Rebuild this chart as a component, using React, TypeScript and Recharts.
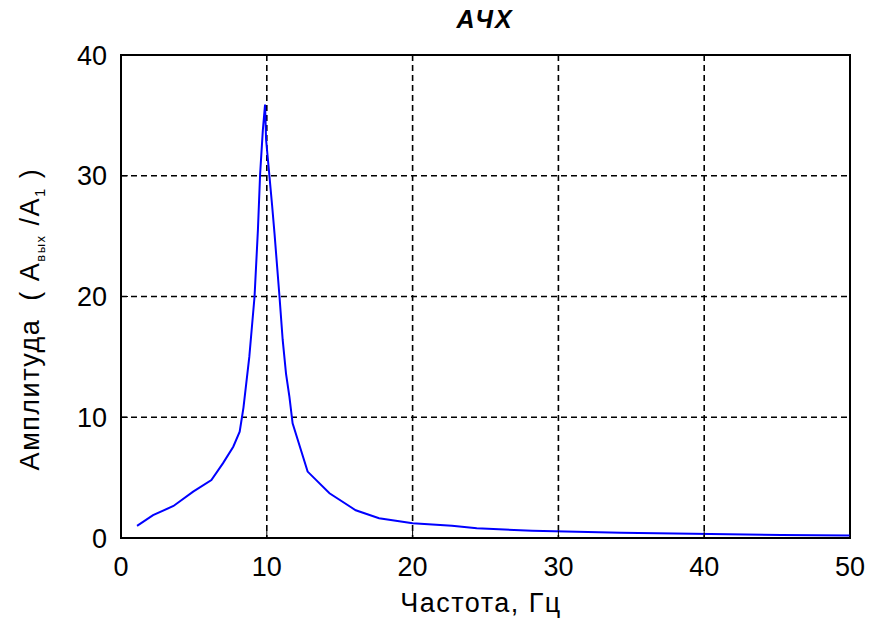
import React from "react";
import {
  LineChart,
  Line,
  XAxis,
  YAxis,
  CartesianGrid,
  ReferenceArea,
} from "recharts";

if (typeof document !== "undefined") document.body.style.margin = "0";

// частота, Гц
const freq = [
  1.1, 2.2, 3.6, 4.95, 6.2, 7.0, 7.7, 8.14, 8.4, 8.8, 9.16, 9.39, 9.54, 9.73,
  9.88, 9.95, 10.14, 10.36, 10.53, 10.87, 11.09, 11.32, 11.55, 11.77, 12.8,
  14.3, 16.1, 17.7, 20, 22.7, 24.4, 28.2, 34.3, 45.3, 50,
];
// амплитуда (Aвых/A1)
const amp = [
  1.0, 1.9, 2.65, 3.84, 4.8, 6.2, 7.56, 8.8, 10.8, 15.0, 20.0, 25.5, 30.1, 33.8,
  35.9, 33.0, 30.5, 27.6, 25.2, 20.0, 16.4, 13.6, 11.7, 9.5, 5.5, 3.7, 2.3,
  1.63, 1.22, 1.02, 0.8, 0.6, 0.44, 0.25, 0.2,
];
const xTicks = [0, 10, 20, 30, 40, 50];
const yTicks = [0, 10, 20, 30, 40];

const data = freq.map((f, i) => ({ f, a: amp[i] }));

const FONT = "'Liberation Sans', Arial, sans-serif";

export default function App() {
  return (
    <div style={{ position: "relative", width: 871, height: 622, background: "#fff" }}>
      <LineChart
        width={871}
        height={622}
        data={data}
        margin={{ top: 55, right: 21, bottom: 54, left: 0 }}
      >
        <CartesianGrid stroke="#000" strokeDasharray="6 4" strokeWidth={1.6} />
        <XAxis
          dataKey="f"
          type="number"
          domain={[0, 50]}
          ticks={xTicks}
          height={30}
          stroke="#000"
          tickSize={-7}
          tickMargin={26}
          tick={{ fill: "#000", fontSize: 27, fontFamily: FONT }}
          axisLine={{ stroke: "#000", strokeWidth: 2 }}
        />
        <YAxis
          type="number"
          domain={[0, 40]}
          ticks={yTicks}
          width={121}
          stroke="#000"
          tickSize={-7}
          tickMargin={21}
          tick={{ fill: "#000", fontSize: 27, fontFamily: FONT }}
          axisLine={{ stroke: "#000", strokeWidth: 2 }}
        />
        <ReferenceArea
          x1={0}
          x2={50}
          y1={0}
          y2={40}
          fill="none"
          stroke="#000"
          strokeWidth={2}
          ifOverflow="visible"
        />
        <Line
          type="linear"
          dataKey="a"
          stroke="#0000ff"
          strokeWidth={2}
          dot={false}
          isAnimationActive={false}
        />
      </LineChart>
      <svg
        width={871}
        height={622}
        style={{ position: "absolute", left: 0, top: 0, pointerEvents: "none" }}
      >
        <text
          x={485}
          y={28}
          textAnchor="middle"
          fontFamily={FONT}
          fontWeight="bold"
          fontStyle="italic"
          fontSize={25}
          letterSpacing={2}
        >
          АЧХ
        </text>
        <text
          x={481}
          y={612}
          textAnchor="middle"
          fontFamily={FONT}
          fontSize={27}
          letterSpacing={1.5}
        >
          Частота, Гц
        </text>
        <text
          transform="translate(39,319) rotate(-90)"
          textAnchor="middle"
          fontFamily={FONT}
          fontSize={27}
          letterSpacing={1.5}
        >
          Амплитуда{"\u00a0\u00a0"}(
          {"\u00a0"}A
          <tspan fontSize={13} dy={6}>вых</tspan>
          <tspan dy={-6}>{"\u00a0"}/A</tspan>
          <tspan fontSize={15} dy={6}>1</tspan>
          <tspan dy={-6}>{"\u00a0"})</tspan>
        </text>
      </svg>
    </div>
  );
}
